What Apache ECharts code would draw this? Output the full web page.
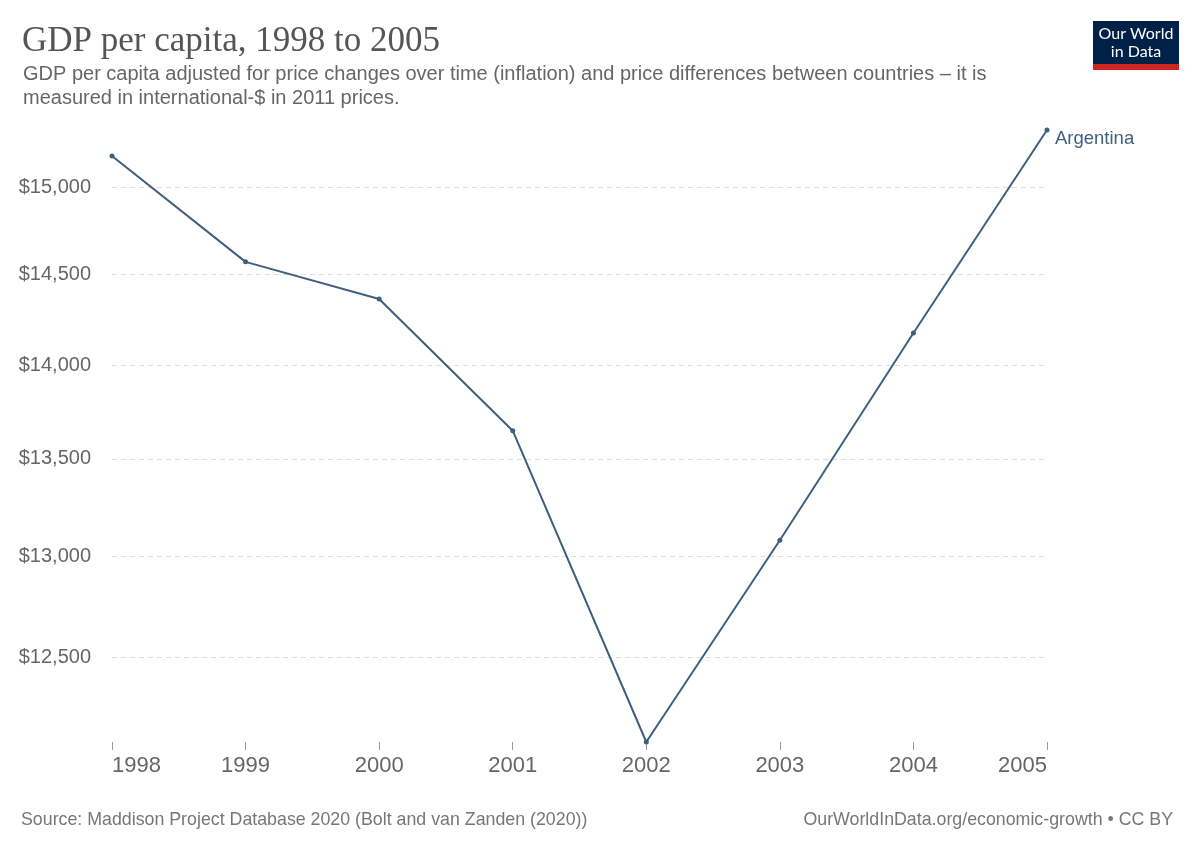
<!DOCTYPE html>
<html>
<head>
<meta charset="utf-8">
<script src="https://cdn.jsdelivr.net/npm/echarts@6/dist/echarts.min.js"></script>
<style>
  html, body { margin: 0; padding: 0; background: #fff; }
  #chart { width: 1200px; height: 848px; }
</style>
</head>
<body>
<div id="chart"></div>
<script>
let years = ['1998', '1999', '2000', '2001', '2002', '2003', '2004', '2005']
let argentina = [15181, 14571, 14363, 13648, 12097, 13081, 14175, 15335]
let yTicks = [12500, 13000, 13500, 14000, 14500, 15000]

let chart = echarts.init(document.getElementById('chart'));

function money(v) {
    return '$' + Math.round(v).toLocaleString('en-US')
}

let option = {
    backgroundColor: '#ffffff',
    animation: false,
    title: [
        {
            text: 'GDP per capita, 1998 to 2005',
            left: 17, top: 19,
            textStyle: {fontFamily: 'Liberation Serif', fontSize: 35, fontWeight: 'normal', color: '#555555'}
        },
        {
            text: 'GDP per capita adjusted for price changes over time (inflation) and price differences between countries – it is\nmeasured in international-$ in 2011 prices.',
            left: 18, top: 57,
            textStyle: {fontFamily: 'Liberation Sans', fontSize: 20, fontWeight: 'normal', color: '#666666', lineHeight: 24}
        },
        {
            text: 'Source: Maddison Project Database 2020 (Bolt and van Zanden (2020))',
            left: 16, top: 806,
            textStyle: {fontFamily: 'Liberation Sans', fontSize: 17.8, fontWeight: 'normal', color: '#777777'}
        },
        {
            text: 'OurWorldInData.org/economic-growth • CC BY',
            right: 22, top: 806,
            textStyle: {fontFamily: 'Liberation Sans', fontSize: 17.8, fontWeight: 'normal', color: '#777777'}
        }
    ],
    graphic: [
        {type: 'rect', shape: {x: 1093, y: 21, width: 86, height: 44}, style: {fill: '#002147'}},
        {type: 'rect', shape: {x: 1093, y: 64, width: 86, height: 6}, style: {fill: '#ce261e'}},
        {
            type: 'text', x: 1136, y: 25,
            style: {text: 'Our World\nin Data', fill: '#ffffff', font: '16px Lato', align: 'center', lineHeight: 18}
        }
    ],
    grid: {left: 112, right: 153, top: 130, bottom: 106},
    xAxis: {
        type: 'category',
        data: years,
        boundaryGap: false,
        axisLine: {show: false},
        axisTick: {show: true, alignWithLabel: true, length: 8, lineStyle: {color: '#999999'}},
        axisLabel: {
            color: '#666666', fontFamily: 'Liberation Sans', fontSize: 22, margin: 13,
            alignMinLabel: 'left', alignMaxLabel: 'right'
        }
    },
    yAxis: {
        type: 'log',
        min: 'dataMin',
        max: 'dataMax',
        axisLine: {show: false},
        axisTick: {show: false, customValues: yTicks},
        axisLabel: {
            customValues: yTicks,
            color: '#666666', fontFamily: 'Liberation Sans', fontSize: 20, margin: 21,
            formatter: money
        },
        splitLine: {
            show: true,
            customValues: yTicks,
            lineStyle: {color: '#dddddd', type: [5, 4], width: 1}
        }
    },
    series: [
        {
            name: 'Argentina',
            type: 'line',
            data: argentina,
            color: '#3f5f80',
            lineStyle: {width: 2},
            symbol: 'circle',
            symbolSize: 5,
            endLabel: {
                show: true,
                formatter: '{a}',
                color: '#3f5f80',
                fontFamily: 'Liberation Sans',
                fontSize: 18.5,
                offset: [0, 9]
            }
        }
    ]
};
chart.setOption(option);
</script>
</body>
</html>
